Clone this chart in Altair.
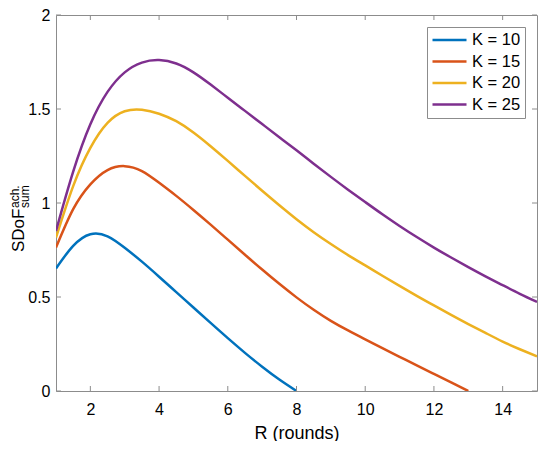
import altair as alt
import pandas as pd

# R (rounds) sample positions, every half round
R_VALUES = [1 + 0.5 * i for i in range(29)]

# SDoF values per K
SDOF_K10 = [0.652, 0.772, 0.834, 0.823, 0.762, 0.688, 0.608, 0.526, 0.444, 0.362,
            0.281, 0.203, 0.129, 0.061, 0.0]
SDOF_K15 = [0.763, 0.967, 1.099, 1.175, 1.196, 1.17, 1.108, 1.038, 0.963, 0.885,
            0.805, 0.725, 0.646, 0.57, 0.498, 0.432, 0.373, 0.322, 0.275, 0.228,
            0.182, 0.136, 0.091, 0.046, 0.0]
SDOF_K20 = [0.816, 1.09, 1.293, 1.426, 1.488, 1.496, 1.475, 1.435, 1.375, 1.302,
            1.224, 1.144, 1.065, 0.988, 0.914, 0.845, 0.782, 0.723, 0.668, 0.613,
            0.559, 0.506, 0.455, 0.405, 0.356, 0.309, 0.263, 0.222, 0.184]
SDOF_K25 = [0.852, 1.167, 1.419, 1.591, 1.695, 1.747, 1.76, 1.742, 1.695, 1.63,
            1.56, 1.49, 1.42, 1.35, 1.28, 1.209, 1.139, 1.071, 1.005, 0.94,
            0.878, 0.819, 0.763, 0.71, 0.659, 0.61, 0.563, 0.517, 0.474]

SERIES = ["K = 10", "K = 15", "K = 20", "K = 25"]
COLORS = ["#0072BD", "#D95319", "#EDB120", "#7E2F8E"]

X_TICKS = [2, 4, 6, 8, 10, 12, 14]
Y_TICKS = [0, 0.5, 1, 1.5, 2]

W, H = 481, 376
FONT = "Liberation Sans"
FRAME = "#8c8c8c"


def main():
    rows = []
    for name, vals in zip(SERIES, [SDOF_K10, SDOF_K15, SDOF_K20, SDOF_K25]):
        for r, v in zip(R_VALUES, vals):
            rows.append({"R": r, "SDoF": v, "K": name})
    df = pd.DataFrame(rows)

    x_scale = alt.Scale(domain=[1, 15], nice=False, zero=False)
    y_scale = alt.Scale(domain=[0, 2], nice=False)

    lines = (
        alt.Chart(df)
        .mark_line(strokeWidth=2.5, interpolate="natural", clip=True)
        .encode(
            x=alt.X(
                "R:Q",
                scale=x_scale,
                title="R (rounds)",
                axis=alt.Axis(
                    values=X_TICKS,
                    tickSize=0,
                    domain=False,
                    grid=False,
                    labelPadding=10,
                    titlePadding=7,
                ),
            ),
            y=alt.Y(
                "SDoF:Q",
                scale=y_scale,
                title=None,
                axis=alt.Axis(
                    values=Y_TICKS,
                    format=".1~f",
                    tickSize=0,
                    domain=False,
                    grid=False,
                    labelPadding=6,
                ),
            ),
            color=alt.Color(
                "K:N",
                scale=alt.Scale(domain=SERIES, range=COLORS),
                legend=alt.Legend(
                    title=None,
                    orient="none",
                    legendX=371,
                    legendY=12,
                    symbolType="stroke",
                    symbolSize=1156,
                    symbolStrokeWidth=2.5,
                    clipHeight=18,
                    rowPadding=3.5,
                    labelFontSize=16.5,
                    labelFont=FONT,
                    labelColor="black",
                    labelOffset=4,
                    fillColor="white",
                    strokeColor=FRAME,
                    padding=4,
                ),
            ),
        )
    )

    xt = pd.DataFrame({"v": X_TICKS})
    yt = pd.DataFrame({"v": Y_TICKS})
    tick_style = dict(color=FRAME, strokeWidth=1)
    x_bottom = alt.Chart(xt).mark_rule(**tick_style).encode(
        x=alt.X("v:Q", scale=x_scale), y=alt.value(H), y2=alt.value(H - 5)
    )
    x_top = alt.Chart(xt).mark_rule(**tick_style).encode(
        x=alt.X("v:Q", scale=x_scale), y=alt.value(0), y2=alt.value(5)
    )
    y_left = alt.Chart(yt).mark_rule(**tick_style).encode(
        y=alt.Y("v:Q", scale=y_scale), x=alt.value(0), x2=alt.value(5)
    )
    y_right = alt.Chart(yt).mark_rule(**tick_style).encode(
        y=alt.Y("v:Q", scale=y_scale), x=alt.value(W), x2=alt.value(W - 5)
    )

    # y title with superscript and subscript
    lab = pd.DataFrame({"t": ["SDoF"], "sup": ["ach."], "sub": ["sum"]})
    base_txt = alt.Chart(lab)
    ylab_main = base_txt.mark_text(
        angle=270, align="left", baseline="alphabetic", font=FONT, fontSize=17,
        color="black",
    ).encode(text="t:N", x=alt.value(-32), y=alt.value(237))
    ylab_sup = base_txt.mark_text(
        angle=270, align="left", baseline="alphabetic", font=FONT, fontSize=12,
        color="black",
    ).encode(text="sup:N", x=alt.value(-37.5), y=alt.value(193))
    ylab_sub = base_txt.mark_text(
        angle=270, align="left", baseline="alphabetic", font=FONT, fontSize=12,
        color="black",
    ).encode(text="sub:N", x=alt.value(-27), y=alt.value(193))

    chart = (
        alt.layer(lines, x_bottom, x_top, y_left, y_right, ylab_main, ylab_sup, ylab_sub)
        .properties(
            width=W,
            height=H,
            autosize=alt.AutoSizeParams(type="none"),
            padding={"left": 48, "top": 7, "right": 5, "bottom": 50},
        )
        .configure_view(stroke=FRAME, strokeWidth=1)
        .configure_axis(
            labelFont=FONT,
            labelFontSize=16,
            labelColor="black",
            titleFont=FONT,
            titleFontSize=18,
            titleFontWeight="normal",
            titleColor="black",
        )
    )

    chart.save("out.html", embed_options={"renderer": "svg", "actions": False})


if __name__ == "__main__":
    main()
